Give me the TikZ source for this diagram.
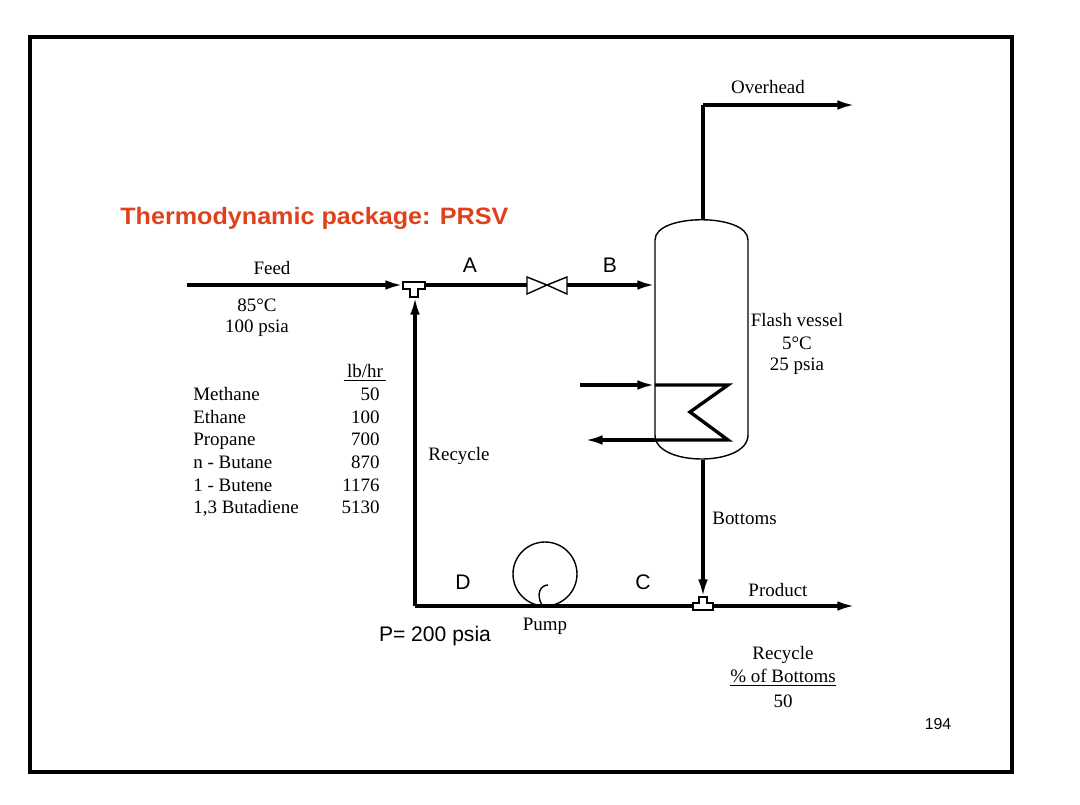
\documentclass[tikz,border=0pt]{standalone}
\usepackage{fontspec}
\setmainfont{Liberation Serif}
\setsansfont{Liberation Sans}
\usetikzlibrary{arrows.meta}
\definecolor{ttl}{HTML}{E0401A}
\begin{document}
\begin{tikzpicture}[x=0.02cm,y=-0.02cm,
  pipe/.style={line width=1.9pt},
  flow/.style={pipe,-{Latex[length=10pt,width=5.5pt]}},
  thin/.style={line width=0.8pt},
  lbl/.style={font=\fontsize{10.8}{12}\selectfont,inner sep=0pt},
  let/.style={font=\sffamily\fontsize{12}{14}\selectfont,inner sep=0pt}]
\useasboundingbox (0,0) rectangle (1080,805);
\draw[line width=2pt] (30,37) rectangle (1012,772);
\node[font=\sffamily\bfseries\fontsize{13.5}{15}\selectfont,text=ttl,anchor=west,inner sep=0pt,xscale=1.06] (title) at (120,218) {Thermodynamic package: PRSV};
% coordinates
\coordinate (feedin) at (187,285);
\coordinate (vin) at (655,285);
\coordinate (prod) at (855,606);
\coordinate (ovh) at (855,105);
% tee 1
\draw[thin,fill=white] (403,282) -- (425,282) -- (425,289) -- (418,289) -- (418,297) -- (410,297) -- (410,289) -- (403,289) -- cycle;
\draw[flow] (feedin) -- (403,285);
\draw[pipe] (425,285) -- (527,285);
% valve
\draw[thin,fill=white] (527,277) -- (527,294) -- (547,285) -- cycle;
\draw[thin,fill=white] (567,277) -- (567,294) -- (547,285) -- cycle;
\draw[flow] (567,285) -- (vin);
% vessel
\draw[thin] (655,240) .. controls (655,213) and (748,213) .. (748,240) -- (748,435)
  .. controls (748,467) and (655,467) .. (655,435) -- cycle;
\draw[pipe] (703,219) -- (703,105);
\draw[flow] (703,105) -- (ovh);
% coil
\draw[flow] (580,385) -- (655,385);
\draw[pipe] (655,385) -- (728,385) -- (690,412) -- (728,440) -- (655,440);
\draw[flow] (655,440) -- (585,440);
% bottoms
\draw[flow] (703,460) -- (703,597);
\draw[thin,fill=white] (699,597) -- (707,597) -- (707,603) -- (713,603) -- (713,610) -- (693,610) -- (693,603) -- (699,603) -- cycle;
\draw[flow] (713,606) -- (prod);
\draw[pipe] (693,606) -- (415,606);
\draw[flow] (415,606) -- (415,297);
% pump
\draw[thin] (545,574) circle (32);
\draw[thin] (542,605) .. controls (536,595) and (540,585) .. (548,585);
% labels
\node[lbl] (feed) at (272,268) {Feed};
\node[lbl] (t85) at (257,305) {85°C};
\node[lbl] (t100) at (257,328) {100 psia};
\node[lbl] (lb) at (365,373) {\underline{\,lb/hr\,}};
\foreach \n/\v/\y in {Methane/50/400,Ethane/100/423,Propane/700/445,n - Butane/870/468,1 - Butene/1176/491,{1,3 Butadiene}/5130/513}{
  \node[lbl,anchor=base west] at (193,\y) {\n};
  \node[lbl,anchor=base east] at (380,\y) {\v};
}
\node[lbl] (rec) at (459,456) {Recycle};
\node[lbl,anchor=west] (bot) at (712,518) {Bottoms};
\node[lbl] (prl) at (778,590) {Product};
\node[lbl] (r2) at (783,655) {Recycle};
\node[lbl] (r3) at (783,678) {\underline{\% of Bottoms}};
\node[lbl] (r4) at (783,701) {50};
\node[lbl] (pump) at (545,626) {Pump};
\node[lbl] (ovl) at (768,87) {Overhead};
\node[lbl] (fv1) at (797,320) {Flash vessel};
\node[lbl] (fv2) at (797,343) {5°C};
\node[lbl] (fv3) at (797,366) {25 psia};
\node[let] (A) at (470,265) {A};
\node[let] (B) at (610,265) {B};
\node[let] (D) at (463,582) {D};
\node[let] (C) at (643,582) {C};
\node[let] (P) at (435,636) {P= 200 psia};
\node[font=\sffamily\fontsize{9}{10}\selectfont,inner sep=0pt] (pg) at (938,724) {194};
\end{tikzpicture}
\end{document}
